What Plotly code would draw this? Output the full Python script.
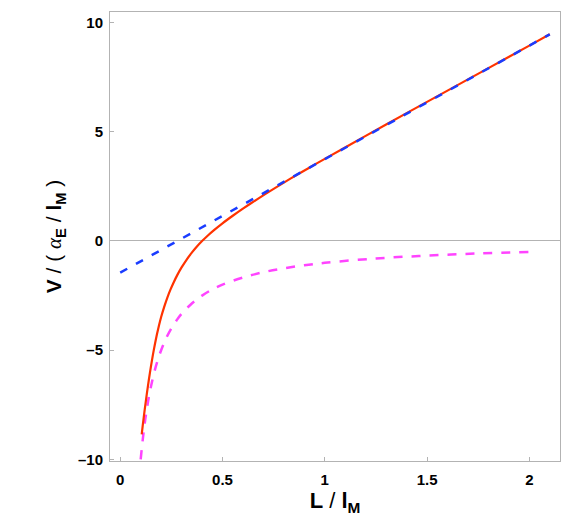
import plotly.graph_objects as go

# red solid curve
red_L = [0.105, 0.11, 0.12, 0.13, 0.14, 0.15, 0.16, 0.17, 0.18, 0.19, 0.20, 0.215, 0.23,
         0.245, 0.26, 0.28, 0.30, 0.325, 0.35, 0.375, 0.40, 0.43, 0.46, 0.50, 0.55, 0.60,
         0.667, 0.75, 0.83, 0.92, 1.0, 1.2, 1.4, 1.6, 1.8, 2.0, 2.1]
red_V = [-8.85, -8.45, -7.7, -7.0, -6.35, -5.75, -5.2, -4.7, -4.25, -3.85, -3.48, -3.015, -2.6,
         -2.24, -1.92, -1.54, -1.21, -0.85, -0.535, -0.255, -0.005, 0.265, 0.51, 0.81, 1.155,
         1.48, 1.895, 2.385, 2.84, 3.33, 3.76, 4.81, 5.85, 6.88, 7.91, 8.94, 9.46]

# blue dashed straight line
blue_L = [0.0, 2.1]
blue_V = [-1.45, 9.46]

# magenta dashed curve
mag_L = [0.1, 0.11, 0.12, 0.13, 0.14, 0.15, 0.165, 0.18, 0.2, 0.225, 0.25, 0.275, 0.3, 0.35,
         0.4, 0.45, 0.5, 0.6, 0.7, 0.8, 0.9, 1.0, 1.25, 1.5, 1.75, 2.0]
mag_V = [-10.0, -9.1, -8.33, -7.7, -7.14, -6.67, -6.06, -5.56, -5.0, -4.44, -4.0, -3.64, -3.33,
         -2.86, -2.5, -2.22, -2.0, -1.67, -1.43, -1.25, -1.11, -1.0, -0.8, -0.67, -0.57, -0.5]

x_ticks = [0, 0.5, 1, 1.5, 2]
x_labels = ["0", "0.5", "1", "1.5", "2"]
y_ticks = [-10, -5, 0, 5, 10]
y_labels = ["\u201310", "\u20135", "0", "5", "10"]

fig = go.Figure()
fig.add_trace(go.Scatter(x=mag_L, y=mag_V, mode="lines", line_shape="spline",
                         line=dict(color="rgb(255,68,255)", width=2.5, dash="9px,9px")))
fig.add_trace(go.Scatter(x=red_L, y=red_V, mode="lines", line_shape="spline",
                         line=dict(color="rgb(255,51,0)", width=2.2, smoothing=0.5)))
fig.add_trace(go.Scatter(x=blue_L, y=blue_V, mode="lines",
                         line=dict(color="rgb(26,60,255)", width=2.5, dash="8px,10px")))

axcol = "#b3b3b3"
# page body has an 8px margin, so the figure is sized to fit inside it
fig.update_layout(
    width=570, height=519,
    margin=dict(l=102, r=18, t=4, b=66),
    plot_bgcolor="white", paper_bgcolor="white",
    showlegend=False,
    font=dict(family="Liberation Sans, Arial, sans-serif", color="black"),
)
fig.update_xaxes(
    range=[-0.05, 2.15], tickvals=x_ticks, ticktext=x_labels, automargin=False,
    ticks="inside", ticklen=4, tickcolor=axcol, ticklabelstandoff=5,
    showline=True, linecolor=axcol, linewidth=1, mirror=True,
    showgrid=False, zeroline=False,
    tickfont=dict(size=15, family="Liberation Sans, Arial, sans-serif", weight="bold"),
    title=dict(text="<b>L</b> / <b>l</b><sub><b>M</b></sub>", font=dict(size=22), standoff=4),
)
fig.update_yaxes(
    range=[-10.07, 10.48], tickvals=y_ticks, ticktext=y_labels, automargin=False,
    ticks="inside", ticklen=4, tickcolor=axcol, ticklabelstandoff=3,
    showline=True, linecolor=axcol, linewidth=1, mirror=True,
    showgrid=False, zeroline=True, zerolinecolor=axcol, zerolinewidth=1,
    tickfont=dict(size=15, family="Liberation Sans, Arial, sans-serif", weight="bold"),
    title=dict(text="<b>V</b> / ( <i><span style='font-family:Liberation Serif'>α</span></i>"
                    "<sub><b>E</b></sub> / <b>l</b><sub><b>M</b></sub> )",
               font=dict(size=21), standoff=10),
)

fig.write_html("out.html")
